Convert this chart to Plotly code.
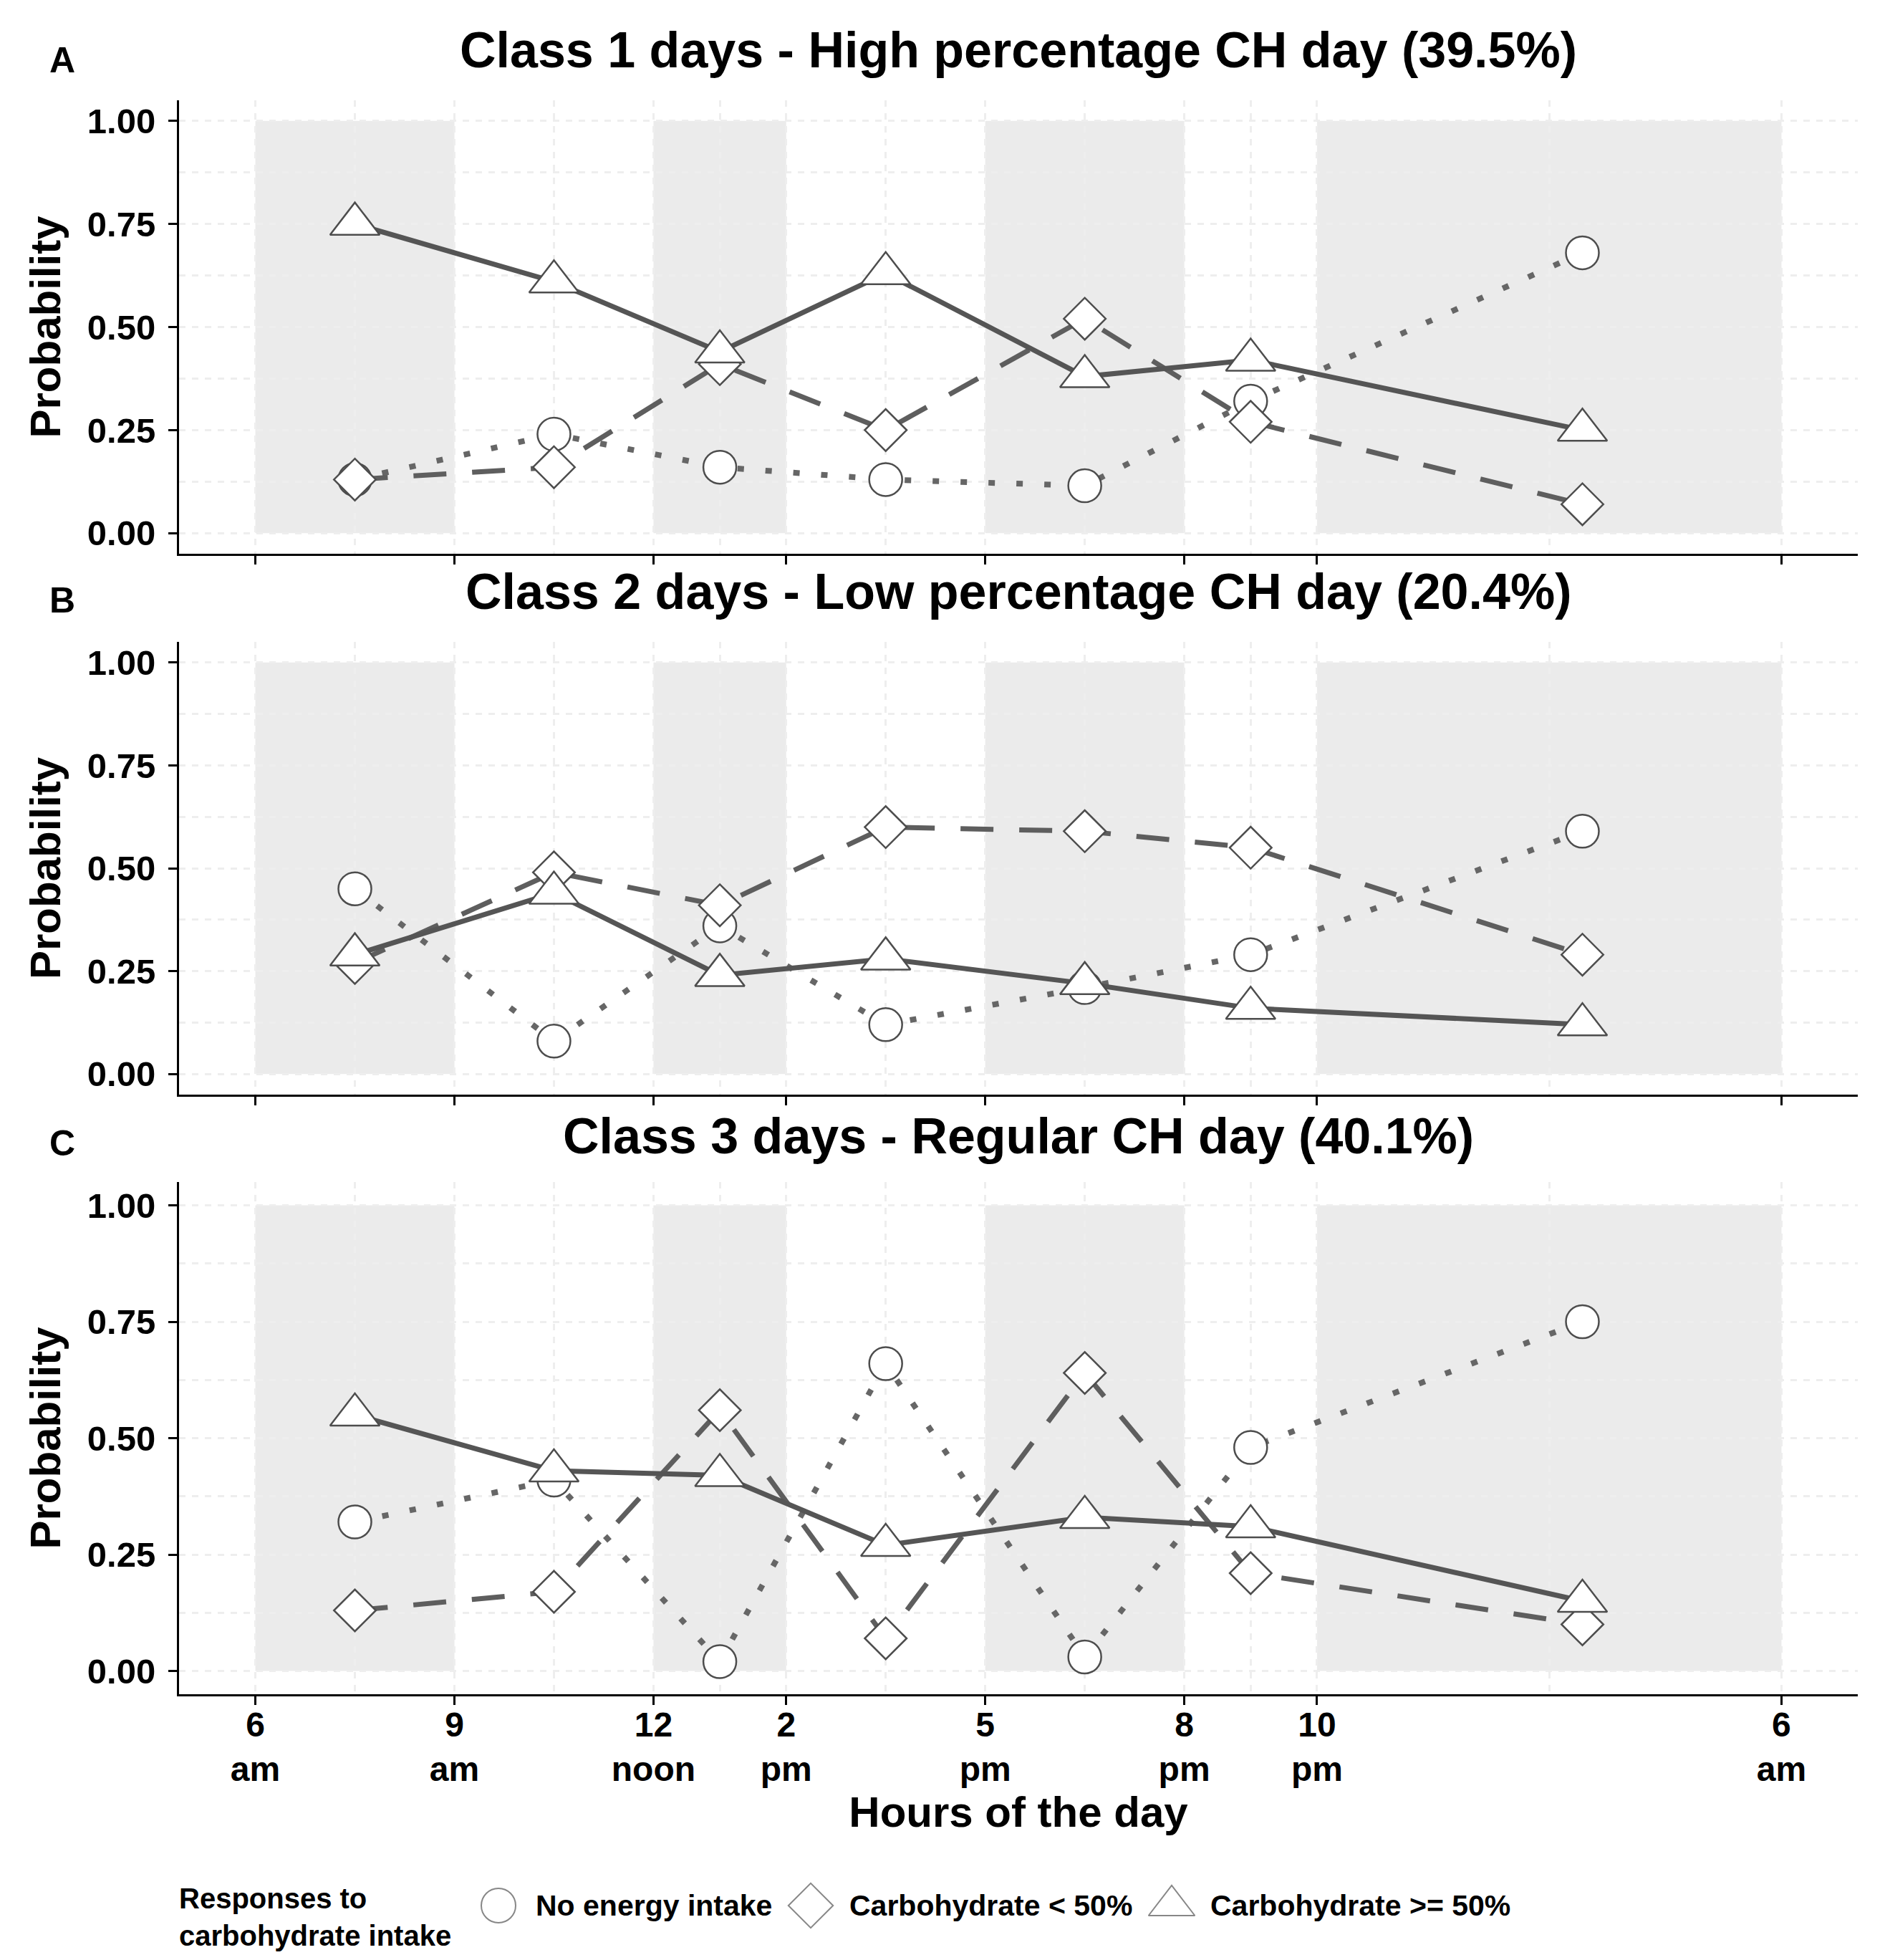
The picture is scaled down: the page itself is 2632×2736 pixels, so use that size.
import plotly.graph_objects as go

# hours of the day (6 am = 6, midnight = 24 ...)
hours = [7.5, 10.5, 13, 15.5, 18.5, 21, 26]
tick_vals = [6, 9, 12, 14, 17, 20, 22, 29]
tick_text = ["6<br>am", "9<br>am", "12<br>noon", "2<br>pm", "5<br>pm",
             "8<br>pm", "10<br>pm", "6<br>am"]
minor_vals = [7.5, 10.5, 13, 15.5, 18.5, 21, 25.5]
band_start = [6, 12, 17, 22]
band_end = [9, 14, 20, 29]

panel_titles = [
    "Class 1 days - High percentage CH day (39.5%)",
    "Class 2 days - Low percentage CH day (20.4%)",
    "Class 3 days - Regular CH day (40.1%)",
]
panel_letters = ["A", "B", "C"]
responses = ["No energy intake", "Carbohydrate < 50%", "Carbohydrate >= 50%"]

class1_no_energy = [0.13, 0.24, 0.16, 0.13, 0.115, 0.32, 0.68]
class1_ch_low = [0.13, 0.16, 0.41, 0.25, 0.52, 0.27, 0.07]
class1_ch_high = [0.75, 0.61, 0.44, 0.63, 0.38, 0.42, 0.25]

class2_no_energy = [0.45, 0.08, 0.36, 0.12, 0.21, 0.29, 0.59]
class2_ch_low = [0.27, 0.49, 0.41, 0.60, 0.59, 0.55, 0.29]
class2_ch_high = [0.29, 0.44, 0.24, 0.28, 0.22, 0.16, 0.12]

class3_no_energy = [0.32, 0.41, 0.02, 0.66, 0.03, 0.48, 0.75]
class3_ch_low = [0.13, 0.17, 0.56, 0.07, 0.64, 0.21, 0.10]
class3_ch_high = [0.55, 0.43, 0.42, 0.27, 0.33, 0.31, 0.15]

panels = [
    [class1_no_energy, class1_ch_low, class1_ch_high],
    [class2_no_energy, class2_ch_low, class2_ch_high],
    [class3_no_energy, class3_ch_low, class3_ch_high],
]

W, H = 2632, 2736
FONT = "Liberation Sans, Arial, sans-serif"

symbols = ["circle", "diamond", "triangle-up"]
sizes = [46, 45, 60]
dashes = ["9px,30px", "46px,36px", "solid"]
widths = [8, 7, 7]
line_colours = ["#666666", "#5e5e5e", "#555555"]
outline = "#4d4d4d"

x_domain = [242 / W, 2586 / W]
# panel top / bottom in pixels
panel_px = [(132, 765), (888, 1520), (1642, 2357)]
title_px = [62, 818, 1578]
letter_px = [76, 830, 1588]

fig = go.Figure()

for i, series in enumerate(panels):
    ax = "" if i == 0 else str(i + 1)
    # lines first, markers on top
    for j, vals in enumerate(series):
        fig.add_trace(go.Scatter(
            x=hours, y=vals, mode="lines",
            line=dict(color=line_colours[j], width=widths[j], dash=dashes[j]),
            xaxis="x" + ax, yaxis="y" + ax, showlegend=False,
            hoverinfo="skip"
        ))
    for j, vals in enumerate(series):
        fig.add_trace(go.Scatter(
            x=hours, y=vals, mode="markers", name=responses[j],
            marker=dict(symbol=symbols[j], size=sizes[j], color="white",
                        line=dict(color=outline, width=2.5)),
            xaxis="x" + ax, yaxis="y" + ax, showlegend=False
        ))

    for s, e in zip(band_start, band_end):
        fig.add_shape(type="rect", xref="x" + ax, yref="y" + ax,
                      x0=s, x1=e, y0=0, y1=1, fillcolor="#ebebeb",
                      line=dict(width=0), layer="below")

    top, bottom = panel_px[i]
    grid = dict(showgrid=True, gridcolor="#eeeeee", gridwidth=3,
                griddash="dash")
    fig.layout["xaxis" + ax] = dict(
        domain=x_domain, range=[4.85, 30.15], anchor="y" + ax,
        tickmode="array", tickvals=tick_vals,
        ticktext=tick_text if i == 2 else [""] * len(tick_vals),
        showticklabels=(i == 2), ticklabelstandoff=-14,
        ticks="outside", ticklen=12, tickwidth=3, tickcolor="black",
        showline=True, linecolor="black", linewidth=3,
        minor=dict(tickvals=minor_vals, ticks="", **grid),
        tickfont=dict(family=FONT, size=48, color="black", weight="bold"),
        zeroline=False, **grid
    )
    fig.layout["yaxis" + ax] = dict(
        domain=[1 - bottom / H, 1 - top / H], range=[-0.05, 1.05],
        anchor="x" + ax, tickvals=[0, 0.25, 0.5, 0.75, 1.0],
        tickformat=".2f", ticklabelstandoff=8,
        ticks="outside", ticklen=12, tickwidth=3, tickcolor="black",
        showline=True, linecolor="black", linewidth=3,
        minor=dict(dtick=0.125, ticks="", **grid),
        tickfont=dict(family=FONT, size=49, color="black", weight="bold"),
        title=dict(text="Probability", standoff=18,
                   font=dict(family=FONT, size=60, color="black",
                             weight="bold")),
        zeroline=False, **grid
    )

    fig.add_annotation(
        text=panel_titles[i], xref="paper", yref="paper",
        x=(x_domain[0] + x_domain[1]) / 2, y=1 - title_px[i] / H,
        xanchor="center", yanchor="middle", showarrow=False,
        font=dict(family=FONT, size=70, color="black", weight="bold"))
    fig.add_annotation(
        text=panel_letters[i], xref="paper", yref="paper",
        x=79 / W, y=1 - letter_px[i] / H,
        xanchor="center", yanchor="middle", showarrow=False,
        font=dict(family=FONT, size=50, color="black", weight="bold"))

fig.layout.xaxis3.title = dict(
    text="Hours of the day", standoff=4,
    font=dict(family=FONT, size=60, color="black", weight="bold"))

# hand-made legend (pixel coordinates on a hidden axis)
legend_sym_x = [688, 1124, 1628]
legend_text_x = [738, 1176, 1680]
legend_y = 2652
legend_sizes = [48, 48, 56]
fig.add_trace(go.Scatter(
    x=legend_sym_x, y=[legend_y] * 3, mode="markers",
    marker=dict(symbol=symbols, size=legend_sizes, color="white",
                line=dict(color="#555555", width=2)),
    xaxis="x4", yaxis="y4", showlegend=False, hoverinfo="skip"
))
fig.layout.xaxis4 = dict(domain=[0, 1], range=[0, W], visible=False,
                         anchor="y4")
fig.layout.yaxis4 = dict(domain=[0, 162 / H], range=[H, H - 162],
                         visible=False, anchor="x4")
for tx, label in zip(legend_text_x, responses):
    fig.add_annotation(
        text=label, xref="x4", yref="y4", x=tx, y=legend_y,
        xanchor="left", yanchor="middle", showarrow=False,
        font=dict(family=FONT, size=41, color="black", weight="bold"))
fig.add_annotation(
    text="Responses to<br>carbohydrate intake", xref="x4", yref="y4",
    x=240, y=2668, xanchor="left", yanchor="middle", align="left",
    showarrow=False,
    font=dict(family=FONT, size=40, color="black", weight="bold"))

fig.update_layout(
    width=W, height=H, margin=dict(l=0, r=0, t=0, b=0),
    plot_bgcolor="white", paper_bgcolor="white",
    font=dict(family=FONT, color="black"),
)

fig.write_html("out.html")
